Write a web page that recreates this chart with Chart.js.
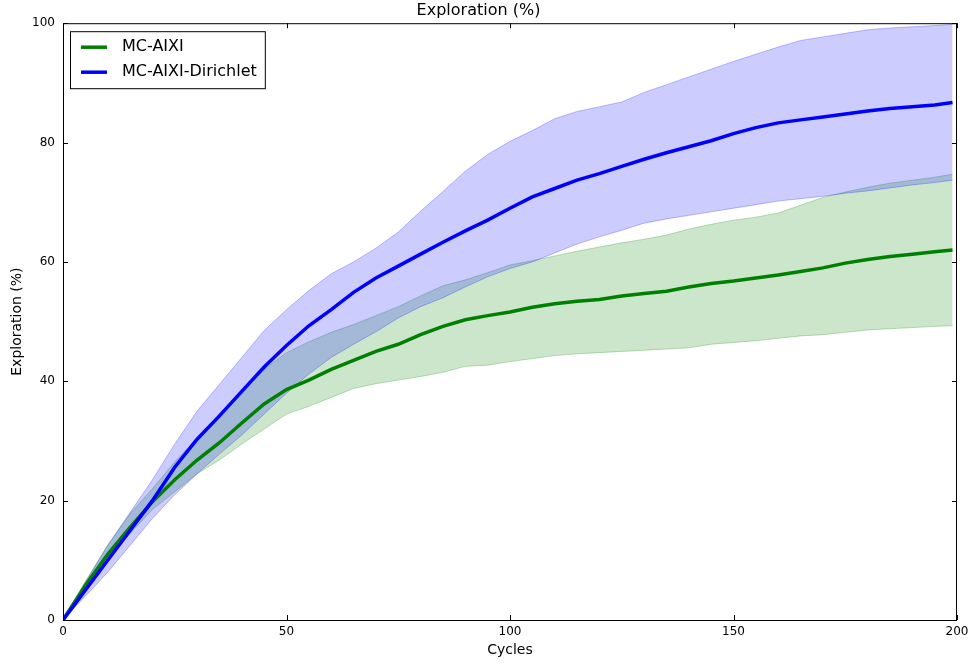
<!DOCTYPE html>
<html>
<head>
<meta charset="utf-8">
<script src="https://cdn.jsdelivr.net/npm/chart.js@4.4.1/dist/chart.umd.min.js"></script>
<style>
  body { margin: 0; background: #fff; }
  #wrap { width: 969px; height: 664px; }
</style>
</head>
<body>
<div id="wrap"><canvas id="expChart" width="969" height="664"></canvas></div>
<script>
// cycles sampled along the x axis
var cycles = [0, 5, 10, 15, 20, 25, 30, 35, 40, 45, 50, 55, 60, 65, 70, 75, 80, 85, 90, 95,
  100, 105, 110, 115, 120, 125, 130, 135, 140, 145, 150, 155, 160, 165, 170, 175, 180, 185, 190, 195, 199];

// MC-AIXI (green): mean and band
var aixiMean = [0, 5.8, 11, 15.5, 19.8, 23.5, 26.8, 29.7, 33, 36.2, 38.6, 40.2, 42, 43.5, 45, 46.2, 47.8, 49.2, 50.3, 51,
  51.6, 52.4, 53, 53.4, 53.7, 54.3, 54.7, 55.1, 55.8, 56.4, 56.8, 57.3, 57.8, 58.4, 59, 59.8, 60.4, 60.9, 61.3, 61.7, 62];
var aixiLow = [0, 5, 10, 14.5, 18.5, 21.5, 24.5, 26.8, 29.5, 32, 34.5, 35.8, 37.3, 38.8, 39.6, 40.2, 40.8, 41.5, 42.5, 42.7,
  43.3, 43.8, 44.3, 44.6, 44.8, 45, 45.2, 45.4, 45.6, 46.2, 46.5, 46.8, 47.2, 47.6, 47.8, 48.2, 48.6, 48.8, 49, 49.2, 49.3];
var aixiHigh = [0, 6.5, 12.5, 17.8, 22, 26.5, 30.5, 34.5, 38.5, 42, 44.8, 46.6, 48.2, 49.5, 51, 52.5, 54.3, 56, 57, 58.2,
  59.5, 60.2, 61, 61.8, 62.5, 63.2, 63.8, 64.5, 65.5, 66.3, 67, 67.5, 68.2, 69.5, 70.8, 71.7, 72.5, 73.2, 73.7, 74.2, 74.7];

// MC-AIXI-Dirichlet (blue): mean and band
var dirMean = [0, 5, 10, 15, 20, 25.6, 30.3, 34.2, 38.3, 42.4, 46, 49.3, 52, 54.9, 57.3, 59.3, 61.3, 63.3, 65.2, 67,
  69, 70.9, 72.3, 73.7, 74.8, 76, 77.2, 78.3, 79.3, 80.3, 81.5, 82.5, 83.3, 83.8, 84.3, 84.8, 85.3, 85.7, 86, 86.3, 86.7];
var dirLow = [0, 4, 8, 12.5, 17, 21, 24.5, 27.8, 31, 34.5, 38, 41.2, 44, 46.2, 48.3, 50.6, 52.5, 54, 55.8, 57.5,
  58.9, 60, 61.5, 63, 64.2, 65.3, 66.5, 67.2, 67.8, 68.4, 69, 69.6, 70.2, 70.6, 71, 71.5, 71.9, 72.4, 72.9, 73.3, 73.7];
var dirHigh = [0, 6.3, 12.5, 18, 23.5, 29.5, 35, 39.5, 44, 48.5, 52, 55.2, 58, 60, 62.3, 65, 68.5, 71.8, 75.2, 78,
  80.2, 82, 84, 85.2, 86, 86.8, 88.4, 89.7, 91, 92.3, 93.6, 94.8, 96, 97.1, 97.7, 98.3, 98.9, 99.2, 99.4, 99.6, 99.8];

var xTicks = [0, 50, 100, 150, 200];
var yTicks = [0, 20, 40, 60, 80, 100];

function pts(arr) {
  return cycles.map(function (c, i) { return { x: c, y: arr[i] }; });
}

var FONT = "'DejaVu Sans', sans-serif";

// frame on all four sides plus inward ticks, like the classic matplotlib look
var framePlugin = {
  id: 'frame',
  afterDraw: function (chart) {
    var ctx = chart.ctx, a = chart.chartArea;
    var xs = chart.scales.x, ys = chart.scales.y;
    ctx.save();
    ctx.strokeStyle = '#000';
    ctx.lineWidth = 1;
    ctx.strokeRect(a.left + 0.5, a.top + 0.5, a.right - a.left - 1, a.bottom - a.top);
    ctx.beginPath();
    xTicks.forEach(function (v) {
      var px = Math.round(xs.getPixelForValue(v)) + 0.5;
      ctx.moveTo(px, a.bottom); ctx.lineTo(px, a.bottom - 5);
      ctx.moveTo(px, a.top); ctx.lineTo(px, a.top + 5);
    });
    yTicks.forEach(function (v) {
      var py = Math.round(ys.getPixelForValue(v)) + 0.5;
      ctx.moveTo(a.left, py); ctx.lineTo(a.left + 5, py);
      ctx.moveTo(a.right, py); ctx.lineTo(a.right - 5, py);
    });
    ctx.stroke();
    ctx.restore();
  }
};

// boxed legend in the upper left corner of the plot
var boxLegend = {
  id: 'boxLegend',
  afterDraw: function (chart) {
    var ctx = chart.ctx, a = chart.chartArea;
    var items = chart.data.datasets.filter(function (d) { return d.inLegend; });
    ctx.save();
    ctx.font = '16px ' + FONT;
    var w = 0;
    items.forEach(function (d) { w = Math.max(w, ctx.measureText(d.label).width); });
    var bx = a.left + 7, by = a.top + 8;
    var bw = 52 + w + 8, bh = 57;
    ctx.fillStyle = '#fff';
    ctx.fillRect(bx, by, bw, bh);
    ctx.strokeStyle = '#000';
    ctx.lineWidth = 1;
    ctx.strokeRect(bx + 0.5, by + 0.5, bw, bh);
    items.forEach(function (d, i) {
      var y = by + 16 + i * 25;
      ctx.strokeStyle = d.borderColor;
      ctx.lineWidth = 3.5;
      ctx.beginPath();
      ctx.moveTo(bx + 11, y); ctx.lineTo(bx + 37, y);
      ctx.stroke();
      ctx.fillStyle = '#000';
      ctx.textBaseline = 'middle';
      ctx.fillText(d.label, bx + 52, y);
    });
    ctx.restore();
  }
};

new Chart(document.getElementById('expChart'), {
  type: 'line',
  data: {
    datasets: [
      { label: 'aixi-low', data: pts(aixiLow), borderColor: 'rgba(0,128,0,0.25)', borderWidth: 1, fill: false, order: 10 },
      { label: 'aixi-high', data: pts(aixiHigh), borderColor: 'rgba(0,128,0,0.25)', borderWidth: 1,
        backgroundColor: 'rgba(0,128,0,0.2)', fill: '-1', order: 10 },
      { label: 'dir-low', data: pts(dirLow), borderColor: 'rgba(0,0,255,0.25)', borderWidth: 1, fill: false, order: 9 },
      { label: 'dir-high', data: pts(dirHigh), borderColor: 'rgba(0,0,255,0.25)', borderWidth: 1,
        backgroundColor: 'rgba(0,0,255,0.2)', fill: '-1', order: 9 },
      { label: 'MC-AIXI', data: pts(aixiMean), borderColor: '#008000', borderWidth: 3.5, fill: false, order: 2, inLegend: true },
      { label: 'MC-AIXI-Dirichlet', data: pts(dirMean), borderColor: '#0000ff', borderWidth: 3.5, fill: false, order: 1, inLegend: true }
    ]
  },
  options: {
    responsive: false,
    animation: false,
    layout: { padding: { left: 0, right: 12, top: 0, bottom: 0 } },
    elements: { point: { radius: 0 }, line: { tension: 0 } },
    plugins: {
      legend: { display: false },
      tooltip: { enabled: false },
      title: {
        display: true,
        text: 'Exploration (%)',
        color: '#000',
        font: { family: FONT, size: 16, weight: 'normal' },
        padding: { top: 1, bottom: 3 }
      }
    },
    scales: {
      x: {
        type: 'linear',
        min: 0, max: 200,
        grid: { display: false, drawTicks: false },
        border: { display: false },
        afterBuildTicks: function (s) { s.ticks = xTicks.map(function (v) { return { value: v }; }); },
        ticks: { color: '#000', font: { family: FONT, size: 12 }, padding: 5, maxRotation: 0 },
        title: { display: true, text: 'Cycles', color: '#000', font: { family: FONT, size: 14 }, padding: { top: 0, bottom: 5 } },
        afterFit: function (s) { s.height = 44; s.paddingLeft = 0; s.paddingRight = 0; }
      },
      y: {
        min: 0, max: 100,
        grid: { display: false, drawTicks: false },
        border: { display: false },
        afterBuildTicks: function (s) { s.ticks = yTicks.map(function (v) { return { value: v }; }); },
        ticks: { color: '#000', font: { family: FONT, size: 12 }, padding: 8 },
        title: { display: true, text: 'Exploration (%)', color: '#000', font: { family: FONT, size: 14 }, padding: { top: 9, bottom: 0 } },
        afterFit: function (s) { s.width = 63; }
      }
    }
  },
  plugins: [framePlugin, boxLegend]
});
</script>
</body>
</html>
